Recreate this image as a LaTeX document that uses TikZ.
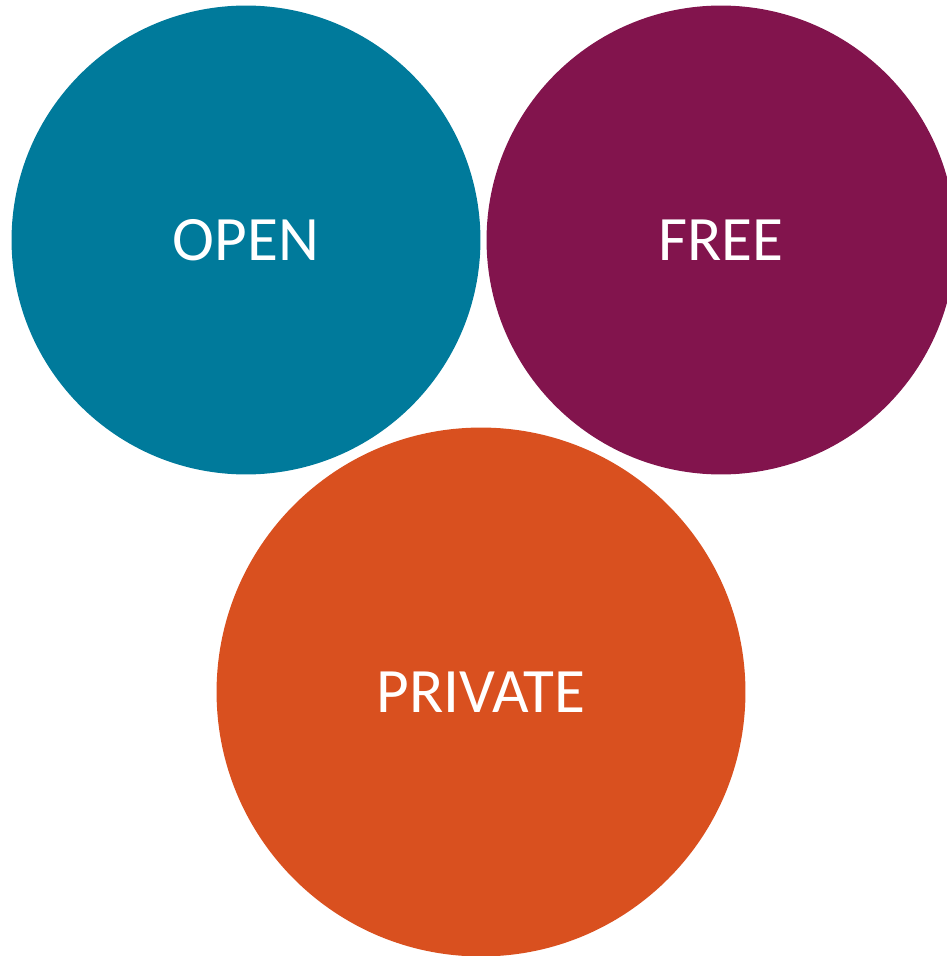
\documentclass[tikz,border=0pt]{standalone}
\usepackage{fontspec}
\setmainfont{Carlito}
\usepackage{tikz}
\usetikzlibrary{positioning}
\definecolor{openteal}{HTML}{007A9B}
\definecolor{freeplum}{HTML}{82144D}
\definecolor{privorange}{HTML}{D9501F}
\tikzset{
  bubble/.style={circle, inner sep=0pt, text=white, font=\fontsize{36}{40}\selectfont},
}
\begin{document}
\begin{tikzpicture}[x=0.02cm, y=-0.02cm]
        \useasboundingbox (0,0) rectangle (946,956);
        % the three circles
        \node[bubble, fill=openteal, minimum size=9.38cm] (open) at (246,240) {OPEN};
        \node[bubble, fill=freeplum, minimum size=9.38cm] (free) at (721,240) {FREE};
        \node[bubble, fill=privorange, minimum size=10.58cm] (private) at (481,692) {PRIVATE};
    \end{tikzpicture}
\end{document}
